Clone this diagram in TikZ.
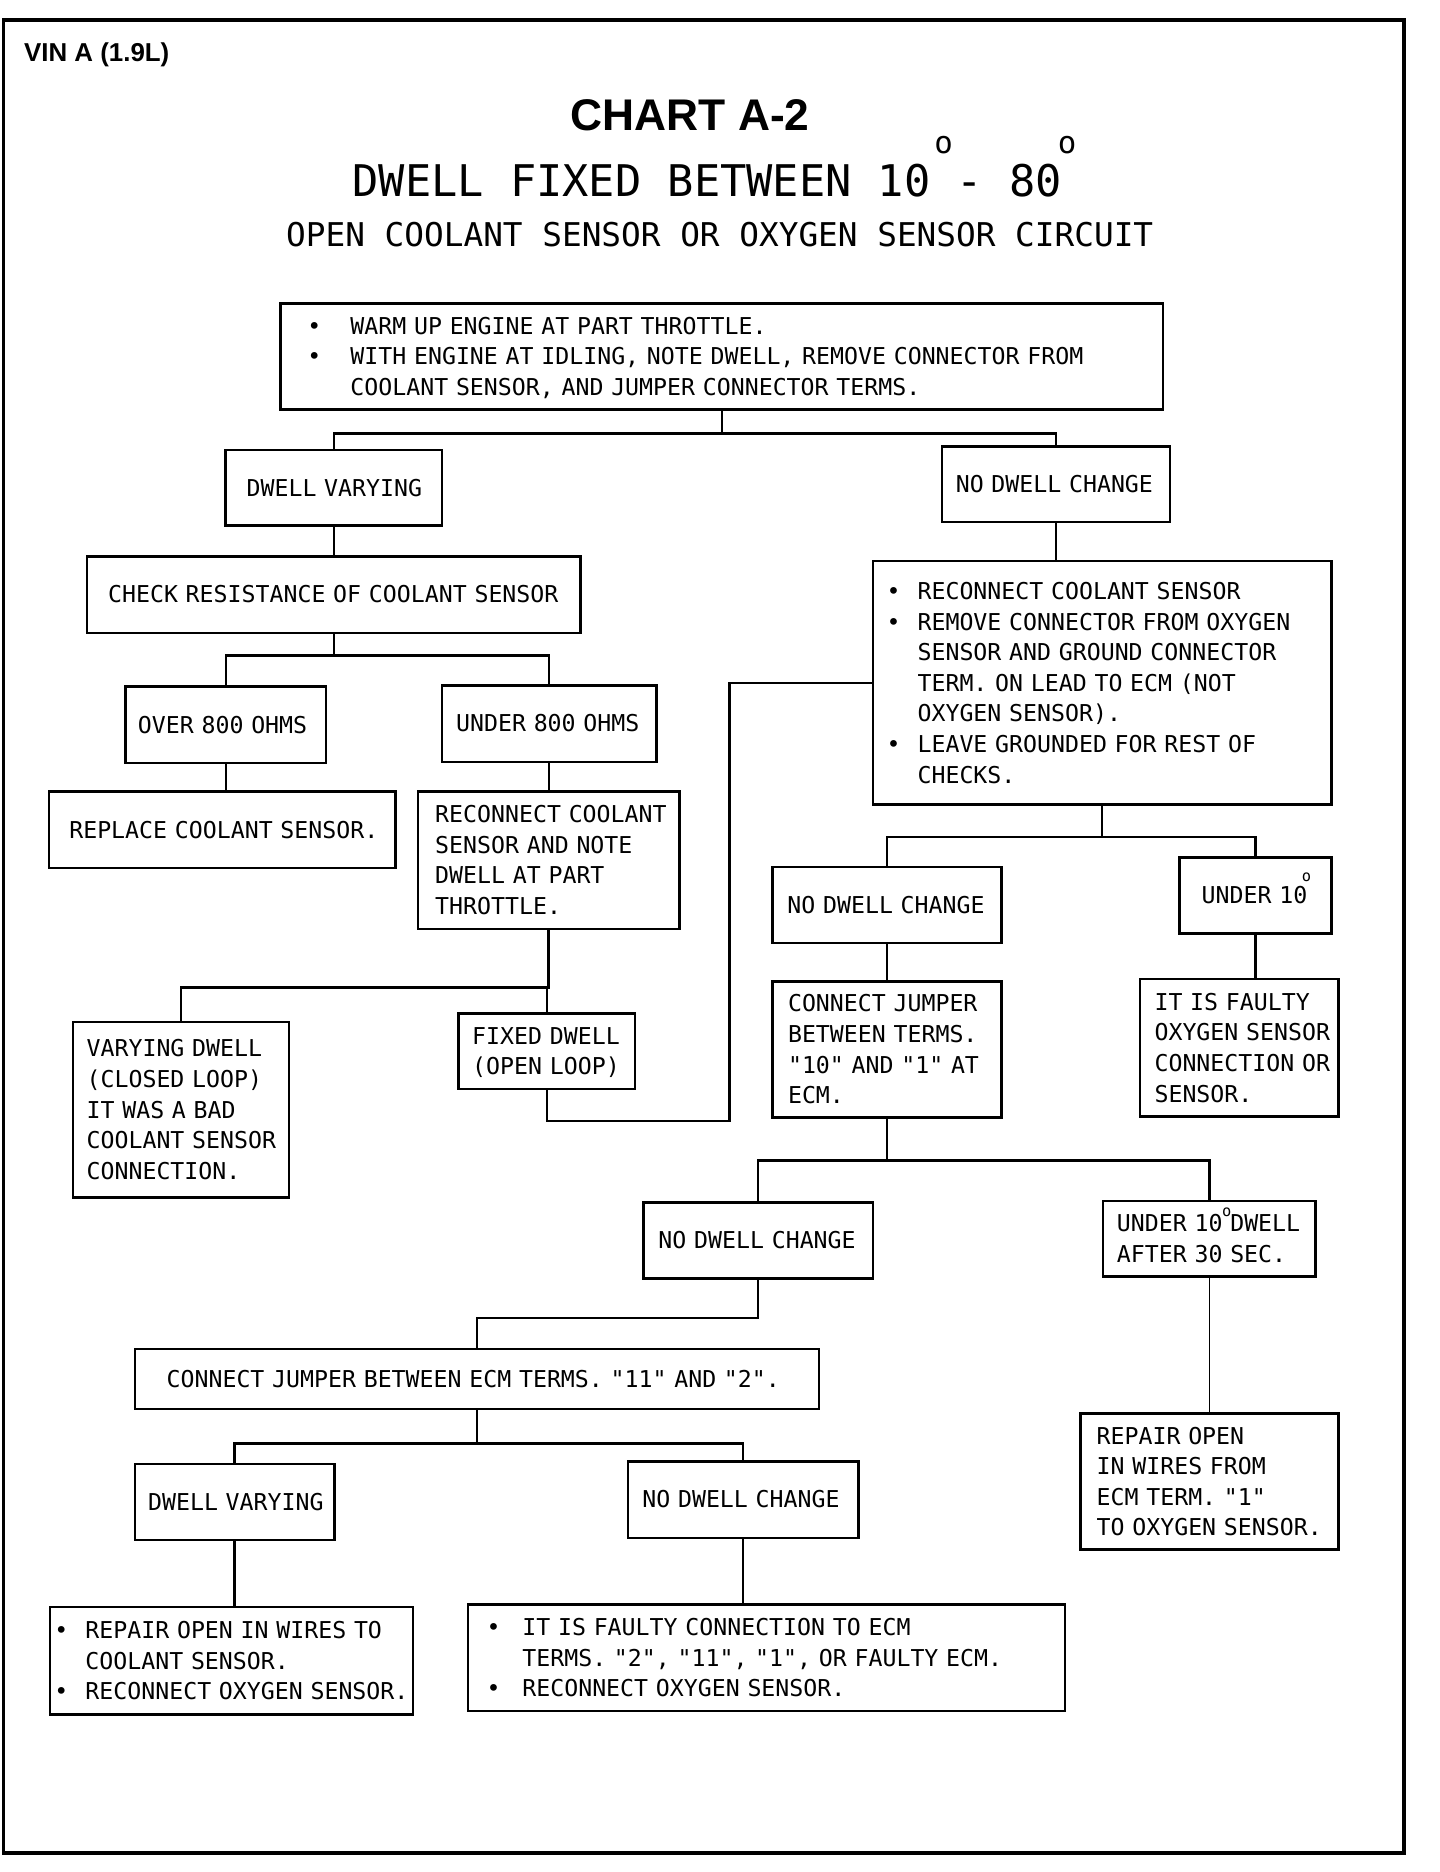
\documentclass[tikz,border=0pt]{standalone}
\usepackage{fontspec}
\usepackage{tikz}
\usetikzlibrary{calc}
\newfontfamily\plotfont{DejaVu Sans Mono}
\newfontfamily\headfont{Liberation Sans}
% raised degree circle: size, raise, shift
\newcommand{\dg}[3]{\rlap{\hspace{#3}\raisebox{#2}[0pt][0pt]{\fontsize{#1}{#1}\selectfont\makebox[0pt]{o}}}}
\newcommand{\bul}[1]{\makebox[#1][l]{\textbullet}}
\newcommand{\ind}[1]{\hspace*{#1}}
\newcommand{\lines}[1]{\raisebox{-1.6pt}[\height][\depth]{\begin{tabular}{@{}l@{}}#1\end{tabular}}}
\tikzset{
  boxdim/.code n args={3}{%
    \pgfmathsetlengthmacro{\boxtw}{(#1-2*#3)*0.03cm}%
    \edef\boxtmp{\noexpand\pgfkeysalso{minimum width=#1*0.03cm,
      minimum height=#2*0.03cm, inner xsep=#3*0.03cm, text width=\boxtw}}%
    \boxtmp},
}

\begin{document}
\begin{tikzpicture}[x=0.03cm,y=-0.03cm,
    chartbox/.style={draw,line width=1.8pt,rectangle,align=left,inner ysep=2pt,
      anchor=north west,font={\plotfont\fontsize{16.6}{21.9}\selectfont}},
    link/.style={line width=1.7pt},
    thinlink/.style={line width=0.9pt}]
  \fill[white] (0,0) rectangle (1206,1568);
  \useasboundingbox (0,0) rectangle (1206,1568);
  \draw[line width=2.6pt] (3,17) rectangle (1176,1552);

  % heading
  \node[anchor=base west,inner xsep=0,font={\headfont\bfseries\fontsize{18.5}{22}\selectfont}]
    (vin) at (20,51.8) {VIN A (1.9L)};
  \node[font={\headfont\bfseries\fontsize{31.7}{36}\selectfont}] (chart) at (578,96.5) {CHART A-2};
  \node[anchor=base west,inner xsep=0,font={\plotfont\fontsize{31.2}{36}\selectfont}]
    (subject) at (295,165) {DWELL FIXED BETWEEN 10\dg{22pt}{31pt}{9.4pt} - 80\dg{22pt}{31pt}{3.8pt}};
  \node[anchor=base west,inner xsep=0,font={\plotfont\fontsize{23.4}{28}\selectfont}]
    (circuit) at (239.5,206.6) {OPEN COOLANT SENSOR OR OXYGEN SENSOR CIRCUIT};

  % boxes
  \node[chartbox,boxdim={739}{89}{22.5}] (warmup) at (234,253)
    {\lines{\bul{30.7pt}WARM UP ENGINE AT PART THROTTLE.\\
      \bul{30.7pt}WITH ENGINE AT IDLING, NOTE DWELL, REMOVE CONNECTOR FROM\\
      \ind{30.7pt}COOLANT SENSOR, AND JUMPER CONNECTOR TERMS.}};
  \node[chartbox,boxdim={181}{63}{17.5}] (varying) at (188,376) {\lines{DWELL VARYING}};
  \node[chartbox,boxdim={191}{63}{11.5}] (nochange) at (788,373) {\lines{NO DWELL CHANGE}};
  \node[chartbox,boxdim={413}{64}{17.5}] (resist) at (72,465) {\lines{CHECK RESISTANCE OF COOLANT SENSOR}};
  \node[chartbox,boxdim={168}{64}{10.5}] (over) at (104,574) {\lines{OVER 800 OHMS}};
  \node[chartbox,boxdim={180}{64}{12}] (under) at (369,573) {\lines{UNDER 800 OHMS}};
  \node[chartbox,boxdim={290}{64}{17}] (replace) at (40,662) {\lines{REPLACE COOLANT SENSOR.}};
  \node[chartbox,boxdim={219}{115}{14.5}] (reconn) at (349,662)
    {\lines{RECONNECT COOLANT\\SENSOR AND NOTE\\DWELL AT PART\\THROTTLE.}};
  \node[chartbox,boxdim={181}{147}{11.5}] (closed) at (60,855)
    {\lines{VARYING DWELL\\(CLOSED LOOP)\\IT WAS A BAD\\COOLANT SENSOR\\CONNECTION.}};
  \node[chartbox,boxdim={148}{63}{11.5}] (fixed) at (383,848)
    {\lines{FIXED DWELL\\(OPEN LOOP)}};
  \node[chartbox,boxdim={384}{204}{11.5}] (ground) at (730,469)
    {\lines{\bul{22.2pt}RECONNECT COOLANT SENSOR\\
      \bul{22.2pt}REMOVE CONNECTOR FROM OXYGEN\\
      \ind{22.2pt}SENSOR AND GROUND CONNECTOR\\
      \ind{22.2pt}TERM. ON LEAD TO ECM (NOT\\
      \ind{22.2pt}OXYGEN SENSOR).\\
      \bul{22.2pt}LEAVE GROUNDED FOR REST OF\\
      \ind{22.2pt}CHECKS.}};
  \node[chartbox,boxdim={192}{64}{12.5}] (nochangeb) at (646,725) {\lines{NO DWELL CHANGE}};
  \node[chartbox,boxdim={127}{64}{18.5}] (underten) at (987,717) {\lines{UNDER 10\dg{11pt}{16.3pt}{-0.5pt}}};
  \node[chartbox,boxdim={192}{114}{13}] (jumper) at (646,821)
    {\lines{CONNECT JUMPER\\BETWEEN TERMS.\\"10" AND "1" AT\\ECM.}};
  \node[chartbox,boxdim={166}{115}{12}] (faulty) at (954,819)
    {\lines{IT IS FAULTY\\OXYGEN SENSOR\\CONNECTION OR\\SENSOR.}};
  \node[chartbox,boxdim={192}{64}{12.5}] (nochangec) at (538,1006) {\lines{NO DWELL CHANGE}};
  \node[chartbox,boxdim={178}{63}{11.5}] (afterthirty) at (923,1005)
    {\lines{UNDER 10\dg{11pt}{11.2pt}{3pt} DWELL\\AFTER 30 SEC.}};
  \node[chartbox,boxdim={573}{50}{26.5}] (ecmjumper) at (112,1129)
    {\lines{CONNECT JUMPER BETWEEN ECM TERMS. "11" AND "2".}};
  \node[chartbox,boxdim={167}{64}{11}] (varyingb) at (112,1225) {\lines{DWELL VARYING}};
  \node[chartbox,boxdim={193}{64}{12}] (nochanged) at (525,1223) {\lines{NO DWELL CHANGE}};
  \node[chartbox,boxdim={216}{114}{13.5}] (repair) at (904,1183)
    {\lines{REPAIR OPEN\\IN WIRES FROM\\ECM TERM. "1"\\TO OXYGEN SENSOR.}};
  \node[chartbox,boxdim={304}{90}{3.5}] (coolwire) at (41,1345)
    {\lines{\bul{22.2pt}REPAIR OPEN IN WIRES TO\\
      \ind{22.2pt}COOLANT SENSOR.\\
      \bul{22.2pt}RECONNECT OXYGEN SENSOR.}};
  \node[chartbox,boxdim={500}{89}{15.5}] (faultyecm) at (391,1343)
    {\lines{\bul{25.6pt}IT IS FAULTY CONNECTION TO ECM\\
      \ind{25.6pt}TERMS. "2", "11", "1", OR FAULTY ECM.\\
      \bul{25.6pt}RECONNECT OXYGEN SENSOR.}};

  % connectors
  \draw[link] (warmup.south) -- ++(0,19) -| (varying.north);
  \draw[link] (warmup.south) ++(0,19) -| (nochange.north);
  \draw[link] (varying.south) -- (resist.north);
  \draw[link] (resist.south) -- ++(0,18) -| (over.north);
  \draw[link] (resist.south) ++(0,18) -| (under.north);
  \draw[link] (over.south) -- (over.south |- replace.north);
  \draw[link] (under.south) -- (under.south |- reconn.north);
  \draw[link] (reconn.south) -- ++(0,48) -| (closed.north);
  \draw[link] (reconn.south) ++(0,48) -| (fixed.north);
  \coordinate (loopcorner) at (611,939);
  \draw[link] (fixed.south) |- (loopcorner) |- (ground.west);
  \draw[link] (nochange.south) -- (nochange.south |- ground.north);
  \draw[link] (ground.south) -- ++(0,26) -| (nochangeb.north);
  \draw[link] (ground.south) ++(0,26) -| (underten.north);
  \draw[link] (nochangeb.south) -- (jumper.north);
  \draw[link] (underten.south) -- (underten.south |- faulty.north);
  \draw[link] (jumper.south) -- ++(0,35) -| (nochangec.north);
  \draw[link] (jumper.south) ++(0,35) -| (afterthirty.north);
  \draw[thinlink] (afterthirty.south) -- (afterthirty.south |- repair.north);
  \draw[link] (nochangec.south) -- ++(0,32) -| (ecmjumper.north);
  \draw[link] (ecmjumper.south) -- ++(0,28) -| (varyingb.north);
  \draw[link] (ecmjumper.south) ++(0,28) -| (nochanged.north);
  \draw[link] (varyingb.south) -- (varyingb.south |- coolwire.north);
  \draw[link] (nochanged.south) -- (nochanged.south |- faultyecm.north);
\end{tikzpicture}
\end{document}
